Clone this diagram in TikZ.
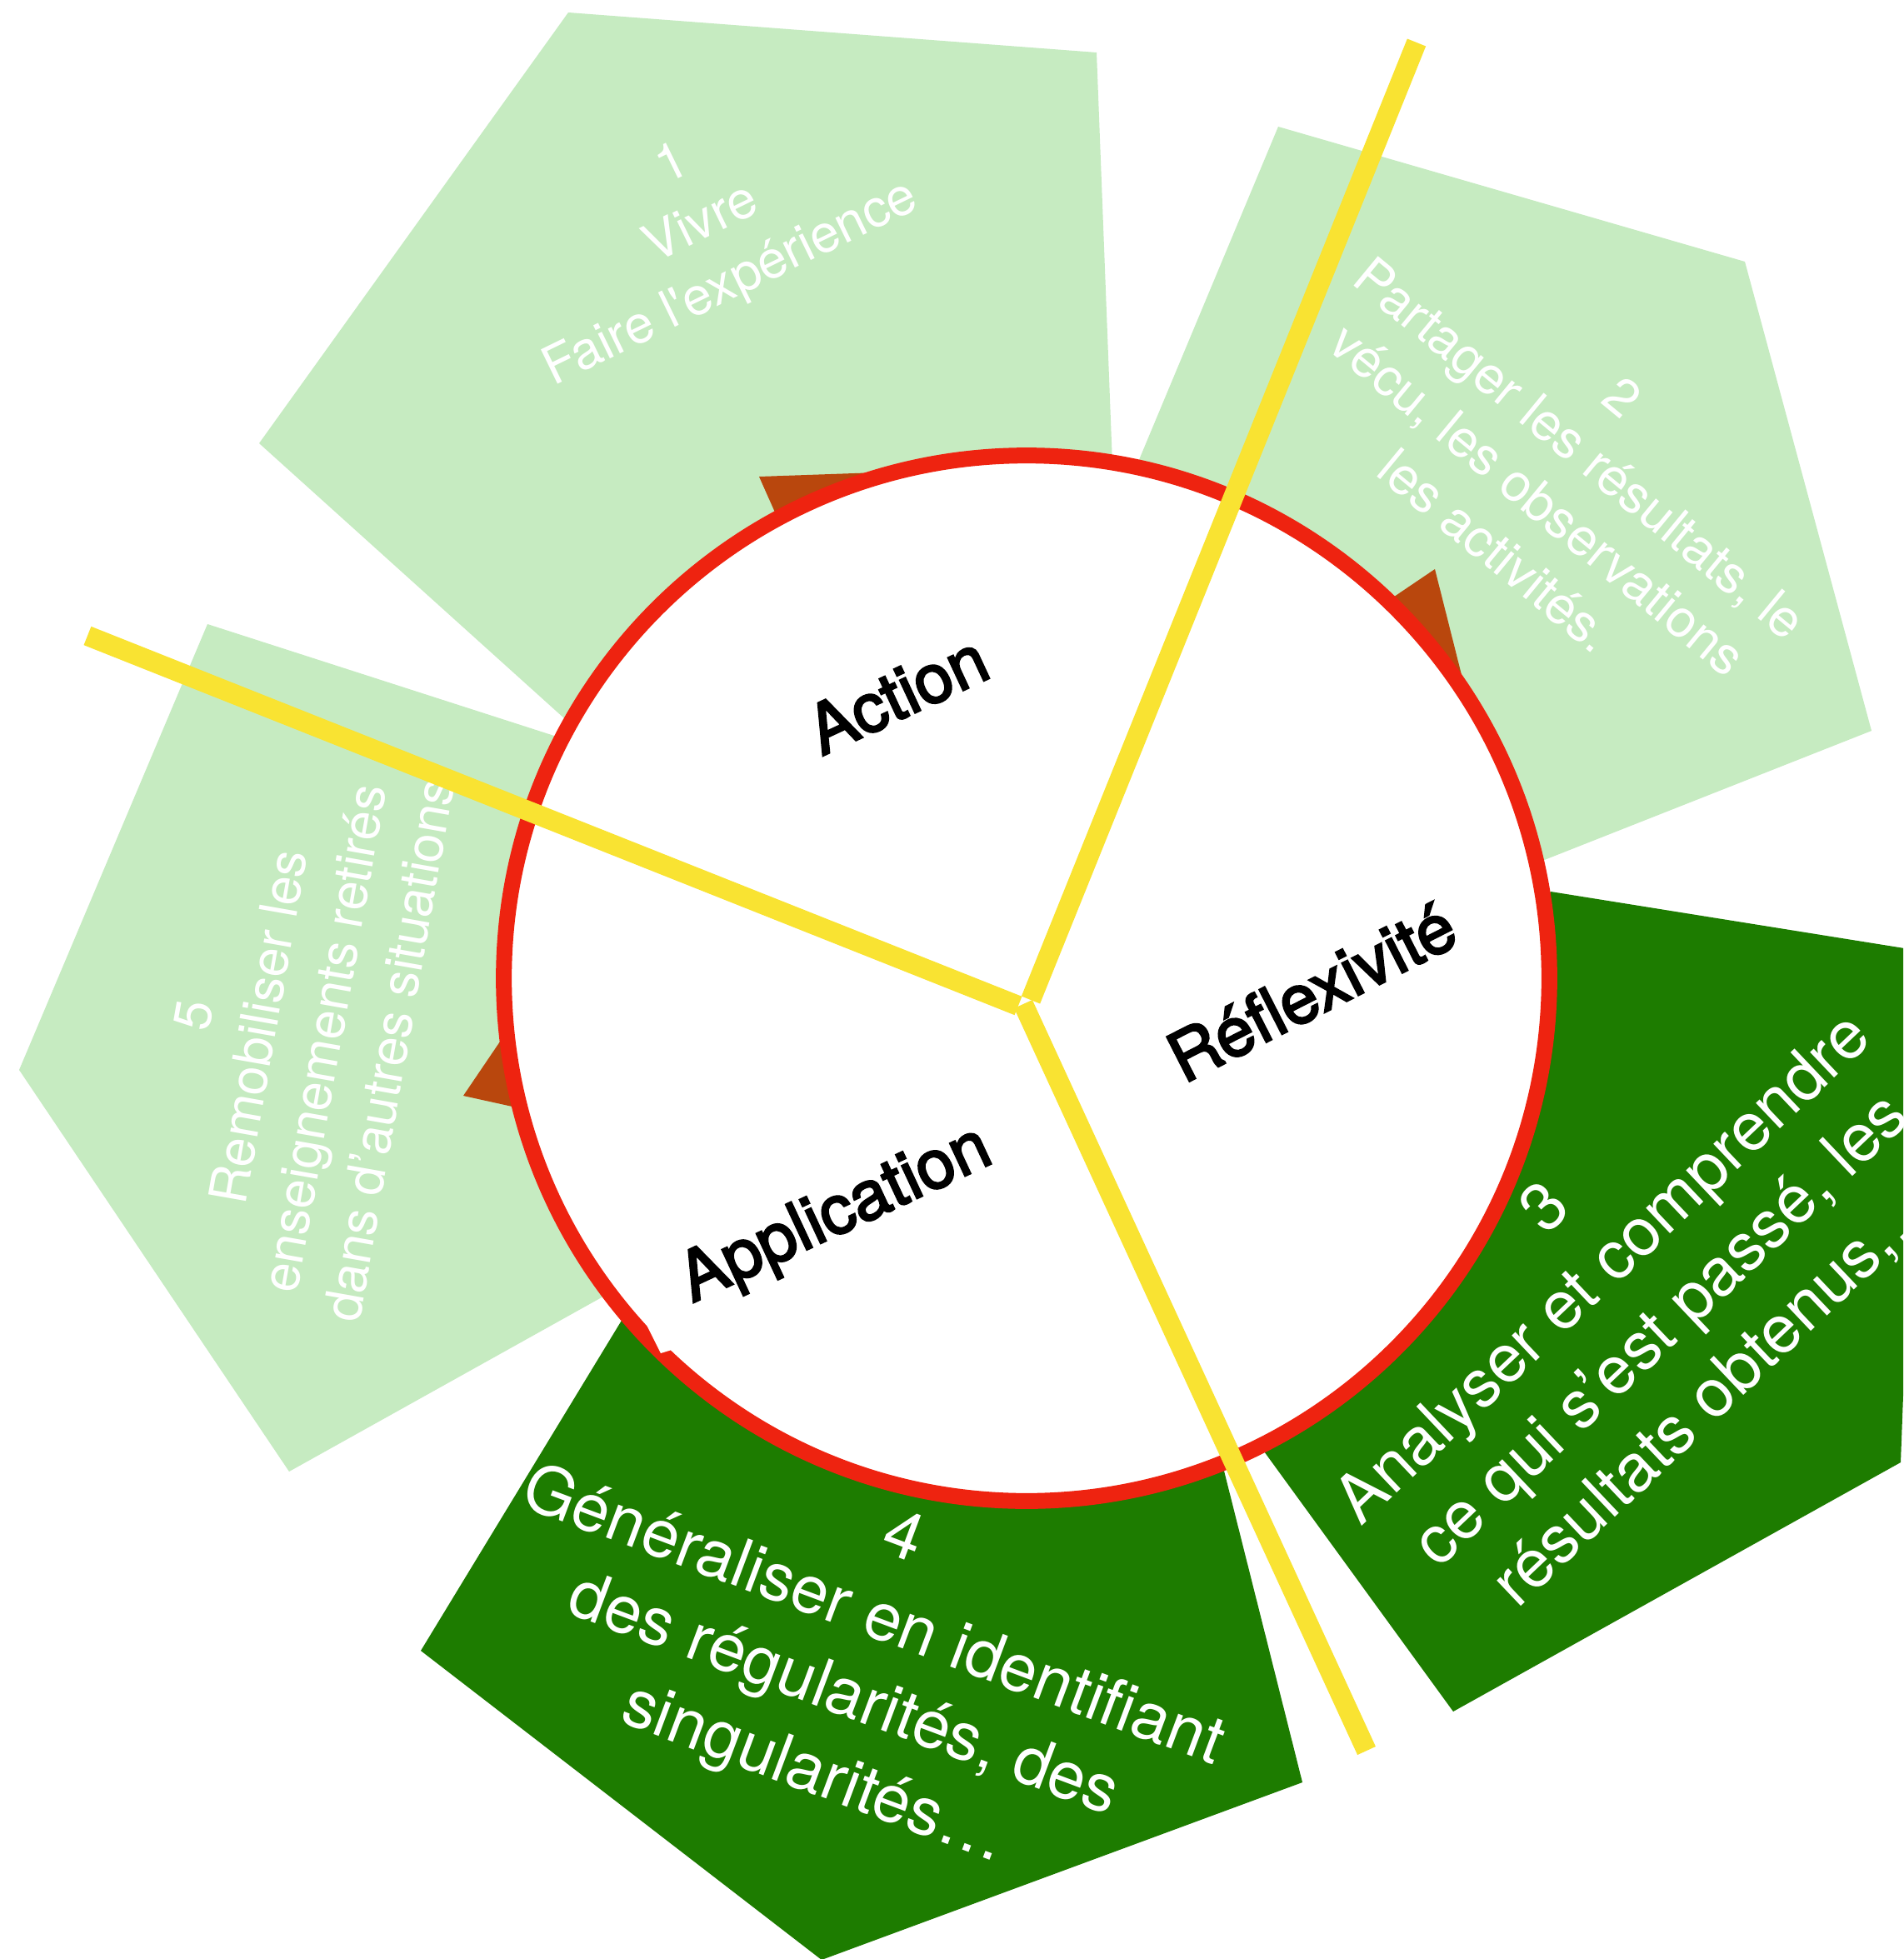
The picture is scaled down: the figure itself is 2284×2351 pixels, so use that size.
\documentclass[tikz,border=0pt]{standalone}
\usepackage{fontspec}
\setmainfont{TeX Gyre Heros}
\newfontfamily\hvplain{TeX Gyre Heros}
\newfontfamily\hvcore{TeX Gyre Heros}[FakeBold=3]
\definecolor{lgreen}{RGB}{198,235,193}
\definecolor{dgreen}{RGB}{29,124,0}
\definecolor{ringred}{RGB}{238,35,16}
\definecolor{arrowbrown}{RGB}{185,71,13}
\definecolor{spoke}{RGB}{249,227,50}
\tikzset{
  lighttxt/.style={text=white, align=center, inner sep=0pt, font=\fontsize{17.9}{22.6}\selectfont},
  darktxt/.style={text=white, align=center, inner sep=0pt, font=\fontsize{22.8}{28.6}\selectfont},
  coretxt/.style={text=black, inner sep=0pt, font=\hvcore\fontsize{23.3}{28}\selectfont},
  spokeline/.style={draw=spoke, line width=0.24cm, line cap=butt},
  ring/.style={circle, draw=ringred, fill=white, line width=0.19cm, minimum size=12.54cm, inner sep=0pt},
  lightpent/.style={fill=lgreen},
  darkpent/.style={fill=dgreen},
  tip/.style={fill=arrowbrown}
}
\begin{document}
\begin{tikzpicture}[x=0.01cm,y=-0.01cm]
\useasboundingbox (0,0) rectangle (2284,2351);
\clip (0,0) rectangle (2284,2351);
\fill[white] (0,0) rectangle (2284,2351);

% pentagons
\fill[lightpent] (682,15) -- (1316,63) -- (1337,609) -- (717,898) -- (311,532) -- cycle;
\fill[lightpent] (1534,152) -- (2094,314) -- (2246,877) -- (1780,1061) -- (1341,614) -- cycle;
\fill[darkpent] (1861,1070) -- (2304,1141) -- (2281,1755) -- (1744,2054) -- (1480,1691) -- cycle;
\fill[darkpent] (505,1981) -- (986,2352) -- (1563,2139) -- (1435,1630) -- (778,1532) -- cycle;
\fill[lightpent] (249,749) -- (23,1284) -- (347,1766) -- (783,1523) -- (724,902) -- cycle;

% pentagon texts
\node[lighttxt, rotate=26] (t1) at (843,271) {1\\Vivre\\Faire l{\hvplain '}expérience};
\node[lighttxt, rotate=-39.5] (t2) at (1871,569) {2\\Partager les résultats, le\\vécu, les observations\\les activités.};
\node[darktxt, rotate=43.5] (t3) at (1960,1561) {3\\Analyser et comprendre\\ce qui s’est passé, les\\résultats obtenus,…};
\node[darktxt, rotate=-20.5] (t4) at (1029,1991) {4\\Généraliser en identifiant\\des régularités, des\\singularités…};
\node[lighttxt, rotate=80] (t5) at (350,1239) {5\\Remobiliser les\\enseignements retirés\\dans d’autres situations};

% arrow tips
\fill[tip] (911,572) -- (1111,565) -- (972,709) -- cycle;
\fill[tip] (1722,683) -- (1783,925) -- (1614,756) -- cycle;
\fill[tip] (556,1315) -- (640,1191) -- (751,1358) -- cycle;

% central circle
\node[ring] (core) at (1232,1174) {};
\fill[white] (776,1590) -- (793,1624) -- (806,1620) -- (806,1608) -- cycle;

% spokes
\coordinate (hubA) at (1237,1200);
\coordinate (hubB) at (1222,1207);
\coordinate (hubC) at (1228,1205);
\coordinate (endA) at (1700,51);
\coordinate (endB) at (105,763);
\coordinate (endC) at (1640,2101);
\draw[spokeline] (endA) -- (hubA);
\draw[spokeline] (endB) -- (hubB);
\draw[spokeline] (hubC) -- (endC);

% labels in circle
\node[coretxt, rotate=25] (action) at (1077,833) {Action};
\node[coretxt, rotate=27] (reflex) at (1574,1190) {Réflexivité};
\node[coretxt, rotate=25] (appli) at (1004,1460) {Application};
\end{tikzpicture}
\end{document}
